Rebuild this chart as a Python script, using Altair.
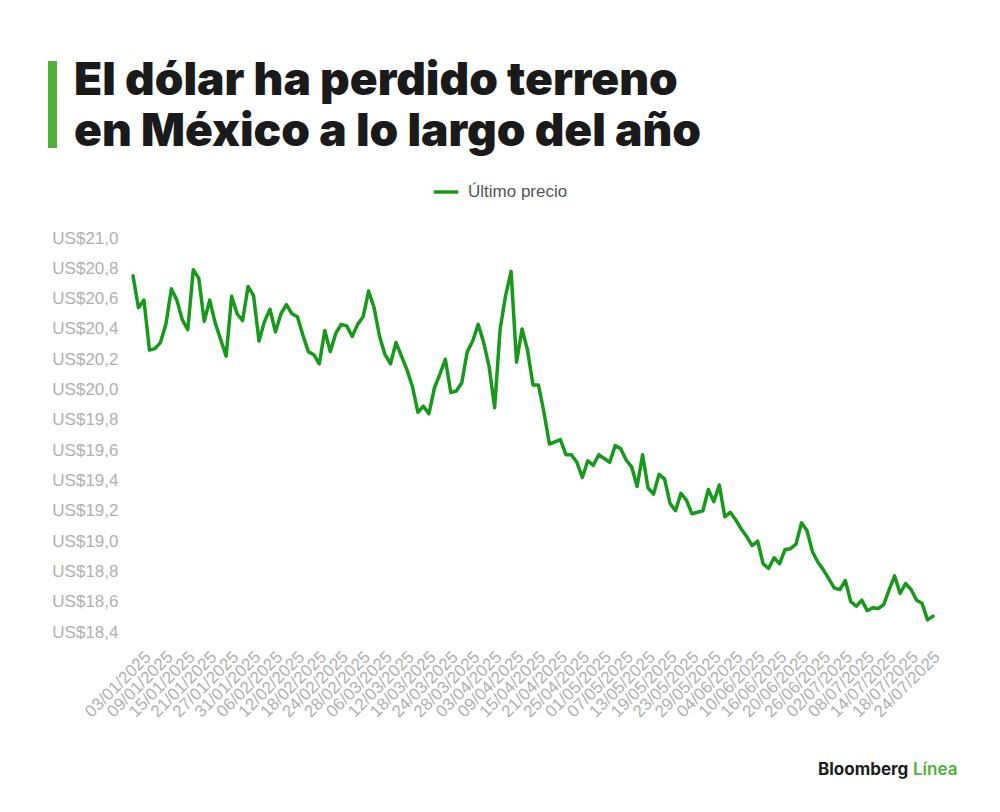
import altair as alt
import pandas as pd

# Último precio USD/MXN (lectura de la imagen), un valor por día hábil
precios = [
    20.75, 20.54, 20.59, 20.26, 20.27, 20.31, 20.43, 20.665, 20.59, 20.46,
    20.395, 20.79, 20.735, 20.45, 20.59, 20.44, 20.33,
    20.22, 20.615, 20.50, 20.455, 20.68,
    20.62, 20.32, 20.45, 20.53, 20.38, 20.50, 20.56, 20.50, 20.48, 20.36,
    20.25, 20.23, 20.17, 20.39, 20.25, 20.37, 20.43, 20.42, 20.35, 20.43,
    20.48, 20.65, 20.54, 20.35, 20.23, 20.17, 20.31, 20.22, 20.13, 20.02,
    19.85, 19.89, 19.84, 20.01, 20.10, 20.20, 19.98, 19.99, 20.045, 20.25,
    20.32, 20.43, 20.31, 20.15, 19.88, 20.40, 20.62, 20.78, 20.18, 20.40,
    20.26, 20.03, 20.03, 19.85, 19.64, 19.655, 19.67, 19.57, 19.57, 19.52,
    19.42, 19.53, 19.50, 19.57, 19.545, 19.52, 19.63, 19.61, 19.535, 19.49,
    19.36, 19.57, 19.35, 19.31, 19.44, 19.41, 19.25, 19.20, 19.315, 19.27,
    19.18, 19.19, 19.20, 19.34, 19.26, 19.37, 19.16, 19.19, 19.14, 19.08,
    19.03, 18.97, 19.00, 18.85, 18.82, 18.89, 18.85, 18.945, 18.95, 18.98,
    19.12, 19.07, 18.93, 18.86, 18.81, 18.75, 18.69, 18.68, 18.74, 18.60,
    18.57, 18.61, 18.54, 18.56, 18.555, 18.58, 18.68, 18.77, 18.655, 18.72,
    18.68, 18.61, 18.59, 18.48, 18.505,
]

# Categorías: días hábiles del 01/01/2025 al 24/07/2025
fechas = pd.bdate_range("2025-01-01", "2025-07-24").strftime("%d/%m/%Y").tolist()

etiquetas_x = [
    "03/01/2025", "09/01/2025", "15/01/2025", "21/01/2025", "27/01/2025",
    "31/01/2025", "06/02/2025", "12/02/2025", "18/02/2025", "24/02/2025",
    "28/02/2025", "06/03/2025", "12/03/2025", "18/03/2025", "24/03/2025",
    "28/03/2025", "03/04/2025", "09/04/2025", "15/04/2025", "21/04/2025",
    "25/04/2025", "01/05/2025", "07/05/2025", "13/05/2025", "19/05/2025",
    "23/05/2025", "29/05/2025", "04/06/2025", "10/06/2025", "16/06/2025",
    "20/06/2025", "26/06/2025", "02/07/2025", "08/07/2025", "14/07/2025",
    "18/07/2025", "24/07/2025",
]

ticks_y = [18.4, 18.6, 18.8, 19.0, 19.2, 19.4, 19.6, 19.8, 20.0, 20.2,
           20.4, 20.6, 20.8, 21.0]

titulo = ["El dólar ha perdido terreno", "en México a lo largo del año"]
serie = "Último precio"

VERDE_LINEA = "#17991b"
VERDE_MARCA = "#4fb03a"
GRIS = "#b0b0b0"

df = pd.DataFrame({"fecha": fechas, "precio": precios, "serie": serie})

W, H = 800, 394
PL, PT = 125, 230

linea = alt.Chart(df).mark_line(strokeWidth=3.5, strokeJoin="round", strokeCap="round").encode(
    x=alt.X(
        "fecha:O",
        sort=fechas,
        scale=alt.Scale(type="point", padding=0),
        title=None,
        axis=alt.Axis(
            values=etiquetas_x,
            labelAngle=-45,
            labelAlign="right",
            labelBaseline="middle",
            labelPadding=22,
            labelOffset=4,
            labelOverlap=False,
            labelFont="Liberation Sans",
            labelFontSize=17,
            labelColor=GRIS,
            ticks=False,
            domain=False,
            grid=False,
        ),
    ),
    y=alt.Y(
        "precio:Q",
        scale=alt.Scale(domain=[18.4, 21.0], nice=False, zero=False),
        title=None,
        axis=alt.Axis(
            values=ticks_y,
            labelExpr="'US$' + replace(format(datum.value, '.1f'), '.', ',')",
            labelFont="Liberation Sans",
            labelFontSize=17,
            labelColor=GRIS,
            labelPadding=15,
            ticks=False,
            domain=False,
            grid=False,
        ),
    ),
    color=alt.Color(
        "serie:N",
        scale=alt.Scale(domain=[serie], range=[VERDE_LINEA]),
        legend=alt.Legend(
            title=None,
            orient="none",
            legendX=299,
            legendY=-60,
            symbolType="stroke",
            symbolStrokeWidth=3.5,
            symbolSize=600,
            labelFont="Liberation Sans",
            labelFontSize=17,
            labelColor="#555555",
            labelOffset=8,
        ),
    ),
)

uno = pd.DataFrame({"k": [0]})

barra = alt.Chart(uno).mark_rect(color=VERDE_MARCA).encode(
    x=alt.value(48 - 133), x2=alt.value(57 - 133),
    y=alt.value(61 - 238), y2=alt.value(148 - 238),
)

t1 = alt.Chart(uno).mark_text(
    text=titulo[0], font="Inter", fontSize=46, fontWeight=900,
    align="left", baseline="alphabetic", color="#1a1a1a",
).encode(x=alt.value(74 - 133), y=alt.value(95 - 238))

t2 = alt.Chart(uno).mark_text(
    text=titulo[1], font="Inter", fontSize=46, fontWeight=900,
    align="left", baseline="alphabetic", color="#1a1a1a",
).encode(x=alt.value(74 - 133), y=alt.value(146 - 238))

marca1 = alt.Chart(uno).mark_text(
    text="Bloomberg", font="Inter", fontSize=17, fontWeight="bold",
    align="left", baseline="middle", color="#1c1c1c",
).encode(x=alt.value(818 - 133), y=alt.value(770 - 238))

marca2 = alt.Chart(uno).mark_text(
    text="Línea", font="Inter", fontSize=17, fontWeight=600,
    align="left", baseline="middle", color=VERDE_MARCA,
).encode(x=alt.value(913 - 133), y=alt.value(770 - 238))

chart = alt.layer(linea, barra, t1, t2, marca1, marca2).properties(
    width=W,
    height=H,
    autosize=alt.AutoSizeParams(type="none"),
    padding={"left": PL, "top": PT, "right": 984 - PL - W, "bottom": 796 - PT - H},
    background="white",
).configure_view(stroke=None)

chart.save("out.html", embed_options={"renderer": "svg", "actions": False})
